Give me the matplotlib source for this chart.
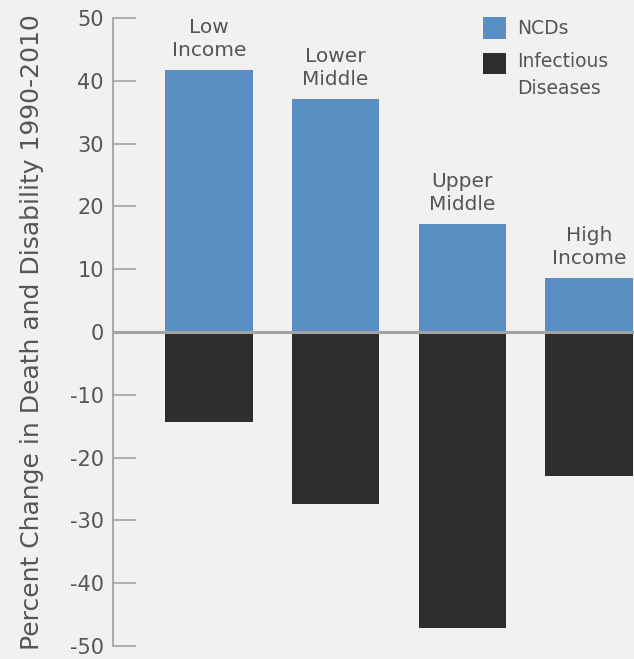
import matplotlib.pyplot as plt
from matplotlib.patches import Rectangle
from matplotlib.legend_handler import HandlerPatch
import numpy as np

# Percent change in death and disability 1990-2010, by income group

groups = ['Low\nIncome', 'Lower\nMiddle', 'Upper\nMiddle', 'High\nIncome']
ncds = [41.7, 37.1, 17.2, 8.6]
infectious = [-14.4, -27.4, -47.2, -22.9]
yticks = [-50, -40, -30, -20, -10, 0, 10, 20, 30, 40, 50]

bg = '#f2f1ef'
blue = '#5a8fc3'
dark = '#2e2e2e'
txt = '#555555'
gray = '#a3a3a3'

plt.rcParams['font.family'] = ['DejaVu Sans']
plt.rcParams['axes.unicode_minus'] = False

fig = plt.figure(figsize=(6.34, 6.59), dpi=100, facecolor=bg)
ax = fig.add_axes([0.1782, 0.0197, 0.8218, 0.953])
ax.set_facecolor(bg)

x = np.arange(len(groups))
b1 = ax.bar(x, ncds, width=0.69, color=blue, zorder=2)
b2 = ax.bar(x, infectious, width=0.69, color=dark, zorder=2)
ax.axhline(0, color=gray, lw=2.2, zorder=3)

for xi, v, name in zip(x, ncds, groups):
    ax.annotate(name, (xi, v), xytext=(0, 7), textcoords='offset points',
                ha='center', va='bottom', fontsize=14.5, color=txt, linespacing=1.3)

ax.set_xlim(-0.758, 3.355)
ax.set_ylim(-50, 50)
ax.set_yticks(yticks)
ax.set_yticklabels([str(t) for t in yticks])
ax.set_xticks([])
ax.tick_params(axis='y', direction='in', length=16.5, width=1.2, color=gray,
               pad=6.5, labelsize=15, labelcolor=txt)
for s in ['top', 'right', 'bottom']:
    ax.spines[s].set_visible(False)
ax.spines['left'].set_color(gray)
ax.spines['left'].set_linewidth(1.3)
ax.set_ylabel('Percent Change in Death and Disability 1990-2010', fontsize=18, color=txt)
ax.yaxis.set_label_coords(-0.132, 0.5)

# legend: square for the two-line entry sits next to the first line
leg_fs = 13.5
leg_ls = 1.5
shift = 0.5 * (0.76 * leg_ls + 0.24) * leg_fs

def raised_patch(legend, orig_handle, xdescent, ydescent, width, height, fontsize):
    return Rectangle((-xdescent, -ydescent + shift), width, height)

h1, h2 = b1.patches[0], b2.patches[0]
leg = ax.legend([h1, h2], ['NCDs', 'Infectious\nDiseases'], loc='upper left', frameon=False,
                fontsize=leg_fs, bbox_to_anchor=(483 / 634, 1 - 17 / 659),
                bbox_transform=fig.transFigure, borderpad=0, borderaxespad=0,
                handlelength=1.22, handleheight=1.42, handletextpad=0.62, labelspacing=0.72,
                handler_map={h2: HandlerPatch(patch_func=raised_patch)})
for t in leg.get_texts():
    t.set_color(txt)
    t.set_linespacing(leg_ls)

plt.savefig('out.png', dpi=100, facecolor=bg)
